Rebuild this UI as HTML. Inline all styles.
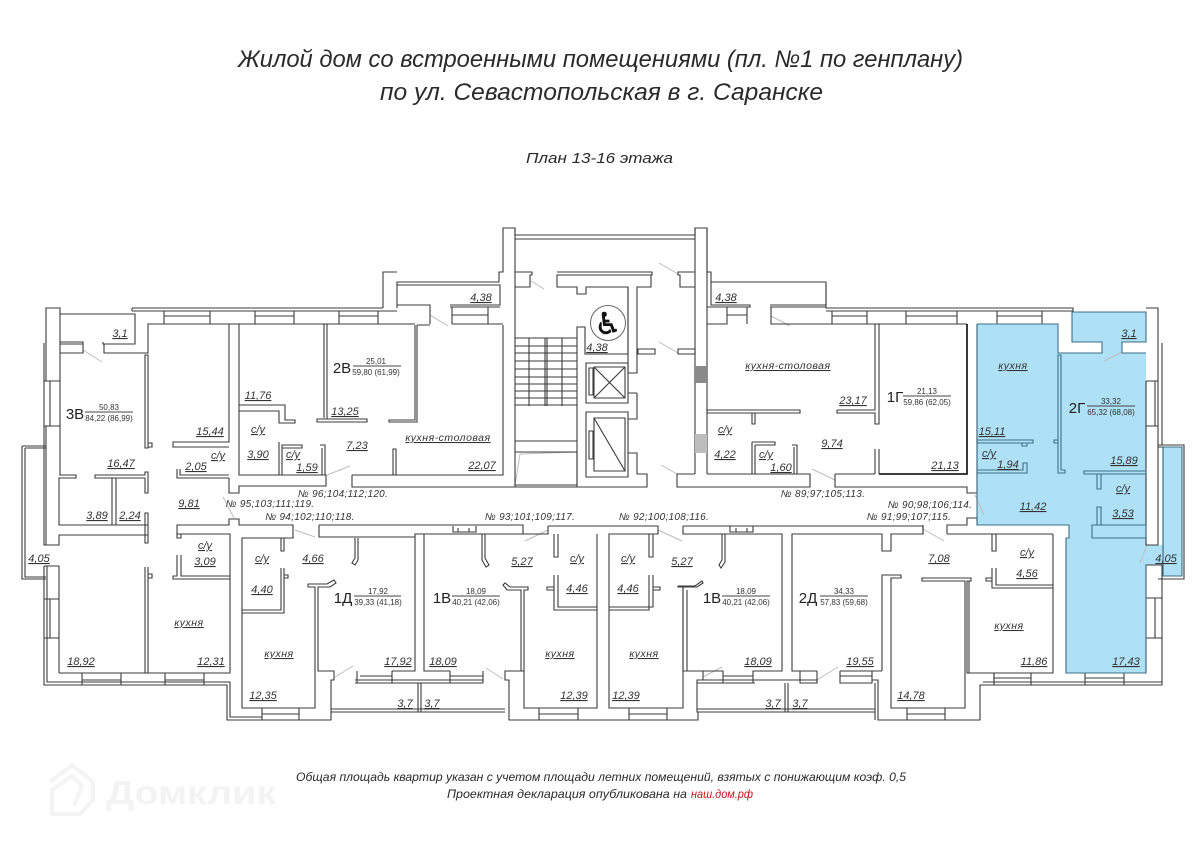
<!DOCTYPE html>
<html lang="ru"><head><meta charset="utf-8"><title>План 13-16 этажа</title>
<style>
html,body{margin:0;padding:0;background:#fff}
svg{display:block}
text{font-family:"Liberation Sans","DejaVu Sans",sans-serif;fill:#333}
.l text{font-size:11px;font-style:italic;text-anchor:middle;text-decoration:underline}
.k text{font-size:10.5px;font-style:italic;text-anchor:middle;text-decoration:underline;letter-spacing:.5px}
.n text{font-size:10px;font-style:italic;text-anchor:middle;letter-spacing:.3px}
.a text{font-size:15px;fill:#222;text-anchor:middle}
.f text{font-size:8px;text-anchor:middle}
.h text{font-style:italic;fill:#2a2a2a}
</style></head><body>
<svg width="1200" height="849" viewBox="0 0 1200 849" xmlns="http://www.w3.org/2000/svg">
<rect width="1200" height="849" fill="#fff"/>
<!-- blue apartment -->
<path d="M977 324H1058V353H1102V342H1072V312H1146V342H1122V353H1146V545H1146V673H1066V538H1069V525H977Z" fill="#aee0f6"/>
<rect x="1163" y="447" width="19" height="129" fill="#aee0f6"/>
<rect x="1146" y="545" width="17" height="20" fill="#aee0f6"/>
<rect x="1146" y="525" width="12" height="20" fill="#fff"/>
<!-- gray leaders -->
<g stroke="#bdbdbd" stroke-width="1" fill="none">
<path d="M83 350L102 362M223 497L234 518M295 530L315 537M327 475L350 466M430 315L448 326M531 281L544 289M659 263L678 274M659 342L678 353M661 465L677 474M790 326L771 316M812 469L835 480M975 495L984 515M923 529L944 541M1122 352L1104 361M1147 545L1140 563M335 677L353 666M486 668L503 679M525 541L548 530M658 530L682 541M703 677L722 667M817 680L838 667"/>
<path d="M515 485L520 454L577 452"/>
</g>
<!-- walls -->
<g fill="none" stroke="#3b3b3b" stroke-width="1.1">
<!-- outer left -->
<path d="M46 343V308H60V381M46 381V343M44 343V381M60 314H135V344H103V342M104 344V353H148V324H229V442H173V447H229M60 342H83V353H60V381M60 344H83"/>
<path d="M132 308H383M132 311H397M132 311V308M397 308V282H499V272H503V228H515V235H695V228H707V272H711V282H826V308H1073V311H826"/>
<path d="M164 311V324M210 311V324M255 311V324M294 311V324M339 311V324M378 311V324M164 316H210M255 316H294M339 316H378"/>
<path d="M397 305H430V324M450 305H500V285H397M452 307V324M488 307V324M452 315H488M450 307H500M452 324H503M417 325H430M415 325V420H389V422H417V325M148 324H415M383 308V272H397"/>
<path d="M44 381H60V426H44ZM50 381V426M44 426V545H46M46 426V545H59V535H148V525H59V478H76V475H60V426M95 475H145V472H148V493H145V478H95ZM112 478V525M116 478V525M145 513V543H148V513Z"/>
<path d="M145 355H148V448H145ZM148 443H152V447H148"/>
<path d="M22 446H46M25 448H46M22 446V579H46M25 448V577H46"/>
<path d="M44 566H59V673M44 566V685H227V720H331V712M47 566V682H230V717H262M59 599H44M59 638H44M50 599V638"/>
<path d="M59 673H230V534H177V525H229V519H239V525H293V538H242V708H262M82 673V685M121 673V685M82 680H121M165 673V685M204 673V685M165 680H204"/>
<path d="M145 567V673M148 567V673M148 574H152V578H148"/>
<path d="M177 534V538H181V534M177 555V576H173V579H230M181 555V576H230"/>
<path d="M177 469V478H229M180 469V475H229M229 478V493H239V486H326V475H239V324M229 324H239"/>
<path d="M239 405H285V420H295V423H279V411H239M324 324V418M327 324V419M317 419H367V422H317Z"/>
<path d="M279 475V442M282 475V445H302V448H282M320 445H325V475M322 448V475M393 475V449H396V475"/>
<!-- north mid -->
<path d="M352 475V487H515M352 475H503V325M515 487H577M515 228V487"/>
<!-- core -->
<path d="M515 239H695M515 272H532V275H530V287H515M557 272H652V275H651V287H637V373H628V287H586V294H577V287H557V275H652"/>
<path d="M577 487V327H585V354H628V287M586 363H628V403H586ZM594 367H625V398H594ZM594 367L625 398M625 367L594 398M589 368H593V395H589ZM586 412H628V477H586ZM594 418H625V471H594ZM594 418L625 471M589 431H593V459H589Z"/>
<path d="M637 393H628M637 393V419H628M628 453H637V474H647V487H577M515 441H577M515 452H577V485H515"/>
<path d="M515 338H577M515 346H577M515 353H577M515 361H577M515 369H577M515 377H577M515 384H577M515 391H577M515 398H577M515 405H577M529 338V406M545 338V406M547 338V406M562 338V406"/>
<path d="M638 349H655V354H638ZM678 349H695V354H678Z"/>
<path d="M695 228V474M707 228V474M695 272H678V275H680V287H695M707 272V307H727V324H707M711 282V305H750V307H727M747 307V324M727 315H747M770 305H826V285M771 307V324H967M770 307H826"/>
<path d="M832 311V324M867 311V324M906 311V324M957 311V324M997 311V324M1042 311V324M832 316H867M906 316H957M997 316H1042"/>
<path d="M707 474H810V487H677V474H695M835 474V487H967V493H977V324M835 474H875"/>
<path d="M707 410H800V413H707ZM752 413V424H755V413M752 442V474M755 445V474M752 442H775V445H755M792 445H797V474M794 447V474"/>
<path d="M837 410H875V324M879 324V424H875V413H837V410M875 449V474M879 449V474"/>
<path stroke-width="1.8" stroke="#222" d="M879 474H967V324"/>
<!-- south wall -->
<path d="M319 525H523V534H415V537H319V525M355 538V558L352 563L355 565L358 560V538M453 526V532H476V526M458 532V528M469 532V528"/>
<path d="M415 537V671H392M424 534V671H450M357 671V683H392V671M360 676H392M355 680H483M355 683H483M450 671V683M483 671V683M450 676H483"/>
<path d="M281 538V551H284V538M281 568V610H242M284 568V613H242M284 575H288V578H284M315 671V587H308V584H327L334 580L336 583L330 587H318V671H334V680H331V712H505M315 671V708H242M262 708V720M299 708V720M262 714H299"/>
<path d="M418 683V712M421 683V712M331 709H505"/>
<path d="M548 526H658V534H609V708H683V587M548 526V534H424M597 534V708H524V590H528V587H510L505 583L503 585L507 590H521V671H505V680H509V720H698V712M524 671H521M554 534V557H558V534M554 575V610H597M558 575V607H597M554 587H547V590H554"/>
<path d="M482 534V560L486 567L489 565L485 558V534M539 708V720M578 708V720M539 714H578M629 708V720M667 708V720M629 714H667"/>
<path d="M649 534V557H653V534M649 575V610H609M653 575V607H609M653 587H660V590H653"/>
<path d="M683 526H923V534H891V551H882V534H792V671H800V683H817V671M683 526V534H782V671H753V683H723V671H687V590M678 587H697L703 583L702 581L695 586H678ZM683 587V671H703V680H697V712H875M722 534V560L719 565L721 568L725 562V534M730 526V532H753V526M736 532V528M747 532V528M723 676H753M720 683H755"/>
<path d="M697 680H800M697 683H720M785 683V712M788 683V712M840 683H872M697 709H875"/>
<path d="M800 671H817M800 683H817V680H797M840 671V683H872V671M840 676H872M882 671V575H901V578H891V708H907M840 671H882M872 680H878V720H907M875 683V720"/>
<path d="M891 708H965V581H922V578H971V581H967V673H994V685M969 581V673M907 708V720H945V708M907 714H945M945 720H980V685H994M945 708H965"/>
<path d="M983 682H1162M994 673V685M1031 673V685M994 678H1031M1085 673V685M1124 673V685M1085 678H1124M1053 534V673H994M980 685H1162"/>
<path d="M947 534V525H967V518H977V525H1069M923 525V534M947 534H1053M992 534V551H996V534M992 568V588H1053M996 568V585H1053M992 578H986V581H992"/>
<!-- right side wall -->
<path d="M1146 308H1158V545H1146V381M1162 343V445M1146 381H1158V426H1146M1155 381V426M1158 445H1184V579H1158M1158 447H1163V576M1146 673V565H1162V685M1146 598H1162M1146 638H1162M1155 598V638"/>
</g>
<g fill="none" stroke="#3f6f86" stroke-width="1.1">
<path d="M977 324H1058V353H1102V342H1072V312H1146V342H1122V353H1146M1146 565V673H1066V538H1069V525H977V324"/>
<path d="M1058 355V473H1065V470H1061V355ZM1058 440H1054V443H1058"/>
<path d="M977 440H1033V443H977ZM1022 443V446H1027V443M977 470H1023V463H1027V473H977"/>
<path d="M1084 471H1146V474H1084ZM1097 474V489H1101V474M1097 507H1101V525H1097ZM1092 525H1146V538H1092Z"/>
<path d="M1163 447V576H1182V447Z"/>
</g>
<!-- gray blocks -->
<rect x="695" y="366" width="12" height="17" fill="#8a8a8a"/>
<rect x="695" y="434" width="12" height="19" fill="#bdbdbd"/>
<circle cx="608" cy="323" r="17.5" fill="#fff" stroke="#666" stroke-width="1"/>
<text x="608" y="334" font-size="30" text-anchor="middle" stroke="#111" stroke-width=".6" style="font-family:'DejaVu Sans',sans-serif;fill:#111">♿</text>
<!-- fractions lines -->
<path d="M85 412H133M353 366H401M903 396H951M1087 406H1135M820 596H868M452 596H500M722 596H770M354 596H401" stroke="#444" stroke-width="1" fill="none"/>
<!-- headings -->
<g class="h">
<text x="238" y="67" font-size="24" textLength="725" lengthAdjust="spacingAndGlyphs">Жилой дом со встроенными помещениями (пл. №1 по генплану)</text>
<text x="380" y="100" font-size="24" textLength="443" lengthAdjust="spacingAndGlyphs">по ул. Севастопольская в г. Саранске</text>
<text x="526" y="163" font-size="15" textLength="147" lengthAdjust="spacingAndGlyphs">План 13-16 этажа</text>
</g>
<!-- area labels -->
<g class="l">
<text x="120" y="337">3,1</text><text x="210" y="435">15,44</text><text x="218" y="459">с/у</text><text x="196" y="470">2,05</text><text x="121" y="467">16,47</text><text x="189" y="507">9,81</text><text x="97" y="519">3,89</text><text x="130" y="519">2,24</text>
<text x="258" y="399">11,76</text><text x="345" y="415">13,25</text><text x="258" y="433">с/у</text><text x="258" y="458">3,90</text><text x="293" y="458">с/у</text><text x="307" y="471">1,59</text><text x="357" y="449">7,23</text><text x="482" y="469">22,07</text><text x="481" y="301">4,38</text><text x="597" y="351">4,38</text><text x="726" y="301">4,38</text>
<text x="725" y="433">с/у</text><text x="725" y="458">4,22</text><text x="766" y="458">с/у</text><text x="781" y="471">1,60</text><text x="853" y="404">23,17</text><text x="832" y="447">9,74</text><text x="945" y="469">21,13</text>
<text x="992" y="435">15,11</text><text x="989" y="457">с/у</text><text x="1008" y="468">1,94</text><text x="1033" y="510">11,42</text><text x="1124" y="464">15,89</text><text x="1123" y="492">с/у</text><text x="1123" y="517">3,53</text><text x="1129" y="337">3,1</text><text x="1166" y="562">4,05</text>
<text x="939" y="562">7,08</text><text x="1027" y="556">с/у</text><text x="1027" y="577">4,56</text><text x="1034" y="665">11,86</text><text x="1126" y="665">17,43</text><text x="860" y="665">19,55</text><text x="911" y="699">14,78</text><text x="800" y="707">3,7</text><text x="773" y="707">3,7</text>
<text x="758" y="665">18,09</text><text x="626" y="699">12,39</text><text x="628" y="592">4,46</text><text x="628" y="562">с/у</text><text x="682" y="565">5,27</text><text x="574" y="699">12,39</text><text x="577" y="592">4,46</text><text x="577" y="562">с/у</text><text x="522" y="565">5,27</text><text x="443" y="665">18,09</text><text x="432" y="707">3,7</text><text x="405" y="707">3,7</text><text x="398" y="665">17,92</text>
<text x="313" y="562">4,66</text><text x="262" y="562">с/у</text><text x="262" y="593">4,40</text><text x="263" y="699">12,35</text><text x="81" y="665">18,92</text><text x="211" y="665">12,31</text><text x="205" y="549">с/у</text><text x="205" y="565">3,09</text><text x="39" y="562">4,05</text>
</g>
<g class="k">
<text x="448" y="441">кухня-столовая</text><text x="788" y="369">кухня-столовая</text><text x="1013" y="369">кухня</text><text x="1009" y="629">кухня</text><text x="644" y="657">кухня</text><text x="560" y="657">кухня</text><text x="279" y="657">кухня</text><text x="189" y="626">кухня</text>
</g>
<g class="n">
<text x="343" y="497">№ 96;104;112;120.</text><text x="270" y="507">№ 95;103;111;119.</text><text x="310" y="520">№ 94;102;110;118.</text><text x="530" y="520">№ 93;101;109;117.</text><text x="664" y="520">№ 92;100;108;116.</text><text x="823" y="497">№ 89;97;105;113.</text><text x="930" y="508">№ 90;98;106;114.</text><text x="909" y="520">№ 91;99;107;115.</text>
</g>
<g class="a">
<text x="75" y="419">3В</text><text x="342" y="373">2В</text><text x="895" y="402">1Г</text><text x="1077" y="413">2Г</text><text x="808" y="603">2Д</text><text x="442" y="603">1В</text><text x="712" y="603">1В</text><text x="343" y="603">1Д</text>
</g>
<g class="f">
<text x="109" y="410">50,83</text><text x="109" y="421">84,22 (86,99)</text>
<text x="376" y="364">25,01</text><text x="376" y="375">59,80 (61,99)</text>
<text x="927" y="394">21,13</text><text x="927" y="405">59,86 (62,05)</text>
<text x="1111" y="404">33,32</text><text x="1111" y="415">65,32 (68,08)</text>
<text x="844" y="594">34,33</text><text x="844" y="605">57,83 (59,68)</text>
<text x="476" y="594">18,09</text><text x="476" y="605">40,21 (42,06)</text>
<text x="746" y="594">18,09</text><text x="746" y="605">40,21 (42,06)</text>
<text x="378" y="594">17,92</text><text x="378" y="605">39,33 (41,18)</text>
</g>
<!-- watermark -->
<path d="M50 782L72 765L93 782V800L80 814H52V790L72 776L82 786L74 806" fill="none" stroke="#f4f4f4" stroke-width="4"/>
<text x="106" y="804" font-size="33" font-weight="bold" textLength="170" lengthAdjust="spacingAndGlyphs" style="fill:#f3f3f3">Домклик</text>
<!-- footer -->
<g class="h">
<text x="296" y="781" font-size="12" textLength="610" lengthAdjust="spacingAndGlyphs">Общая площадь квартир указан с учетом площади летних помещений, взятых с понижающим коэф. 0,5</text>
<text x="447" y="798" font-size="12" textLength="240" lengthAdjust="spacingAndGlyphs">Проектная декларация опубликована на</text>
<text x="691" y="798" font-size="12" textLength="62" lengthAdjust="spacingAndGlyphs" style="fill:#c8141e">наш.дом.рф</text>
</g>
</svg>
</body></html>
